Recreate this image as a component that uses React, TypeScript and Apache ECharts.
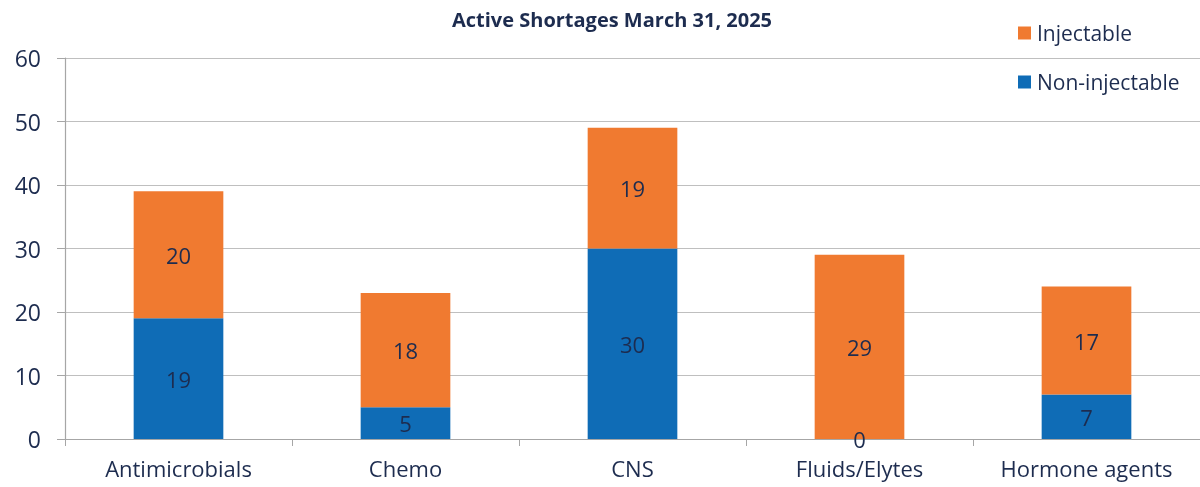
import React, { useEffect, useRef } from "react";
import * as echarts from "echarts";

const categories = ["Antimicrobials", "Chemo", "CNS", "Fluids/Elytes", "Hormone agents"];
const nonInjectable = [19, 5, 30, 0, 7];
const injectable = [20, 18, 19, 29, 17];
const yTicks = { min: 0, max: 60, interval: 10 };

const NAVY = "#1d2c4f";
const ORANGE = "#f07a30";
const BLUE = "#0f6cb6";
const FONT = "'Open Sans', sans-serif";

export default function App() {
  const ref = useRef<HTMLDivElement>(null);
  useEffect(() => {
    if (!ref.current) return;
    const chart = echarts.init(ref.current, null, { renderer: "svg" });
    chart.setOption({
      animation: false,
      textStyle: { fontFamily: FONT },
      title: {
        text: "Active Shortages March 31, 2025",
        left: 607,
        textAlign: "center",
        top: 4,
        textStyle: { fontFamily: FONT, fontWeight: "bold", fontSize: 20, color: NAVY },
      },
      legend: {
        orient: "vertical",
        left: 1013,
        top: 17,
        itemWidth: 13,
        itemHeight: 13,
        itemGap: 27,
        icon: "rect",
        data: ["Injectable", "Non-injectable"],
        textStyle: { fontFamily: FONT, fontSize: 21, color: NAVY, lineHeight: 22, padding: [0, 0, 0, 1] },
      },
      grid: { left: 65, right: -3, top: 58, bottom: 48, containLabel: false },
      xAxis: {
        type: "category",
        data: categories,
        axisLine: { show: true, lineStyle: { color: "#a6a6a6", width: 1.2 } },
        axisTick: { show: true, length: 7, lineStyle: { color: "#a6a6a6" } },
        axisLabel: { fontFamily: FONT, fontSize: 22, color: NAVY, margin: 18 },
      },
      yAxis: {
        type: "value",
        min: yTicks.min,
        max: yTicks.max,
        interval: yTicks.interval,
        axisLine: { show: true, lineStyle: { color: "#a6a6a6", width: 1.2 } },
        axisTick: { show: true, length: 8, lineStyle: { color: "#a6a6a6" } },
        splitLine: { show: true, lineStyle: { color: "#bfbfbf", width: 1.2 } },
        axisLabel: { fontFamily: FONT, fontSize: 23, color: NAVY, margin: 24 },
      },
      series: [
        {
          name: "Non-injectable",
          type: "bar",
          stack: "total",
          data: nonInjectable,
          barWidth: "39.5%",
          itemStyle: { color: BLUE },
          label: { show: true, position: "inside", fontFamily: FONT, fontSize: 22, color: NAVY },
        },
        {
          name: "Injectable",
          type: "bar",
          stack: "total",
          data: injectable,
          barWidth: "39.5%",
          itemStyle: { color: ORANGE },
          label: { show: true, position: "inside", fontFamily: FONT, fontSize: 22, color: NAVY },
        },
      ],
    });
    return () => chart.dispose();
  }, []);
  return <div ref={ref} style={{ position: "fixed", left: 0, top: 0, width: 1200, height: 487 }} />;
}
